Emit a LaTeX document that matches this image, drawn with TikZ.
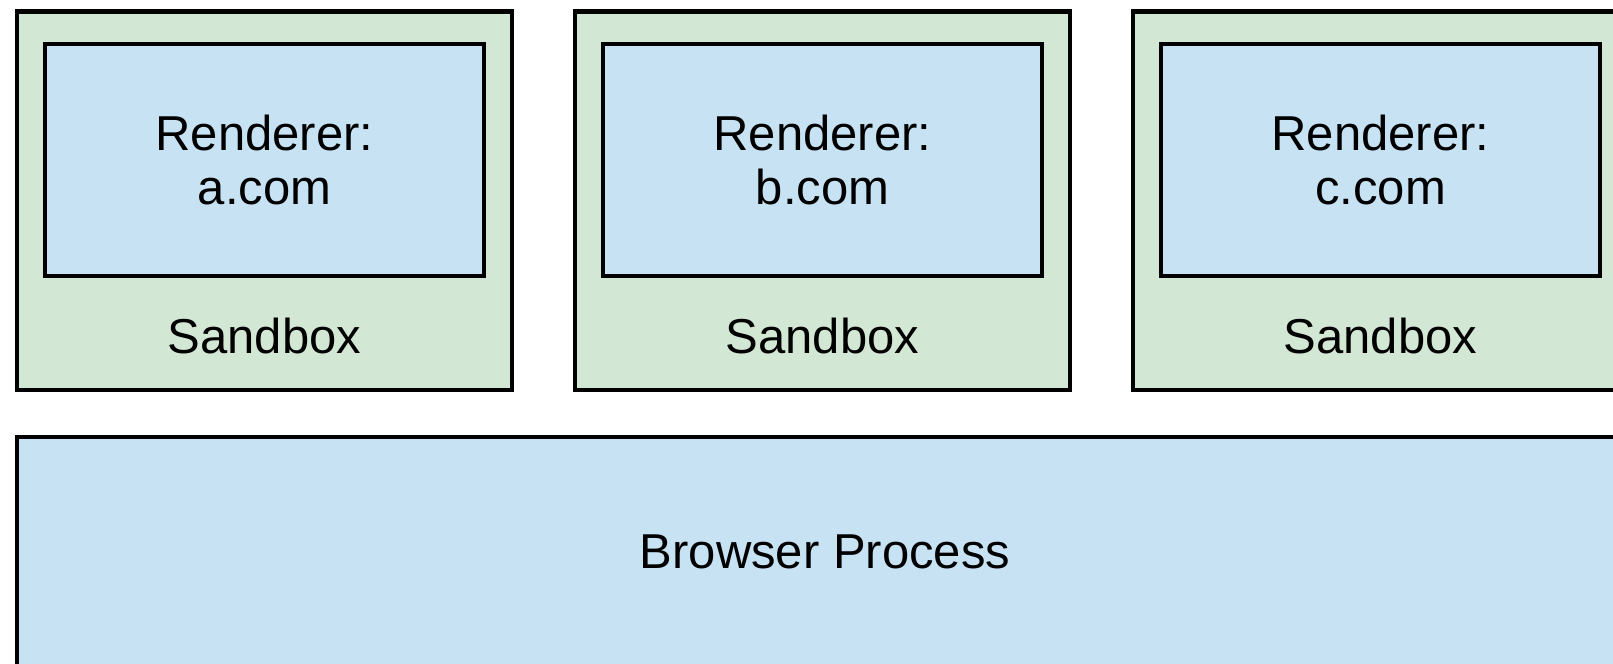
\documentclass[tikz,border=0pt]{standalone}
\usepackage{fontspec}
\setmainfont{Liberation Sans}
\usepackage{tikz}
\usetikzlibrary{positioning}

\definecolor{sandboxgreen}{HTML}{D3E8D4}
\definecolor{rendererblue}{HTML}{C6E2F3}

\begin{document}
\begin{tikzpicture}[x=0.5pt, y=-0.5pt, line width=2.25pt,
  box/.style      = {draw, rectangle, outer sep=0pt, inner sep=0pt},
  sandbox/.style  = {box, fill=sandboxgreen, minimum width=247.5pt, minimum height=189.25pt},
  renderer/.style = {box, fill=rendererblue, minimum width=219.5pt, minimum height=116pt,
                     align=center, font=\fontsize{24.5}{27}\selectfont},
  browser/.style  = {box, fill=rendererblue, minimum width=808pt, minimum height=114.5pt,
                     font=\fontsize{24.5}{27}\selectfont},
  caption/.style  = {font=\fontsize{24.5}{27}\selectfont}]

\useasboundingbox (0,0) rectangle (1613,664);

\node [sandbox                     ] at (264.5,200.75) (sba) {};
\node [sandbox, right=31.5pt of sba]                   (sbb) {};
\node [sandbox, right=31.5pt of sbb]                   (sbc) {};

\node [renderer, below=16.25pt of sba.north] (ra) {Renderer:\\a.com};
\node [renderer, below=16.25pt of sbb.north] (rb) {Renderer:\\b.com};
\node [renderer, below=16.25pt of sbc.north] (rc) {Renderer:\\c.com};

\node [caption, above=18.5pt of sba.south, anchor=base] (la) {Sandbox};
\node [caption, above=18.5pt of sbb.south, anchor=base] (lb) {Sandbox};
\node [caption, above=18.5pt of sbc.south, anchor=base] (lc) {Sandbox};

\node [browser, below=23.5pt of sba.south west, anchor=north west] (bp) {Browser Process};

\end{tikzpicture}
\end{document}
